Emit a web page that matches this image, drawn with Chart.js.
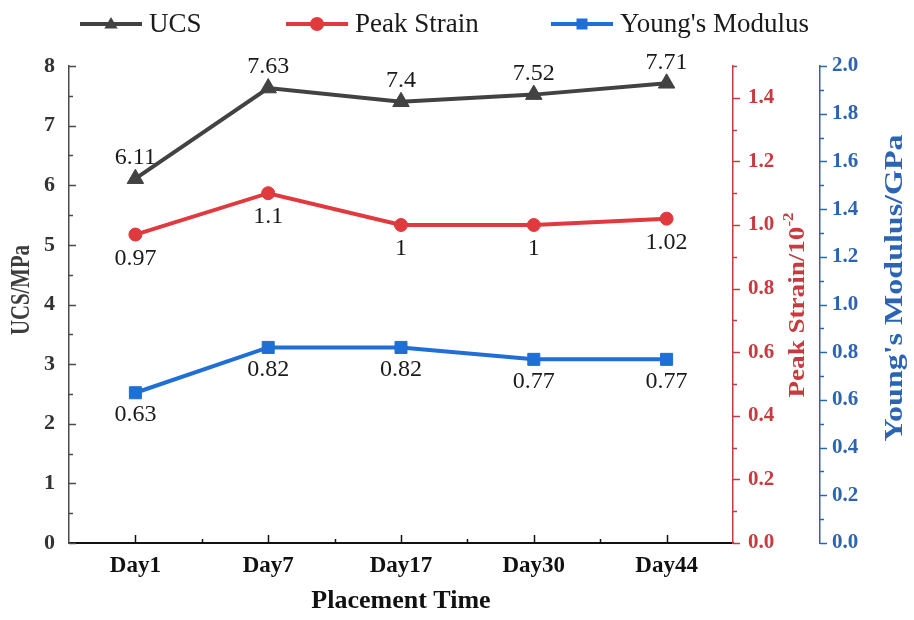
<!DOCTYPE html>
<html>
<head>
<meta charset="utf-8">
<script src="https://cdn.jsdelivr.net/npm/chart.js@4.4.1/dist/chart.umd.min.js"></script>
<style>
  html, body { margin: 0; padding: 0; background: #fff; }
</style>
</head>
<body>
<canvas id="chart" width="914" height="620"></canvas>
<script>
const days = ['Day1', 'Day7', 'Day17', 'Day30', 'Day44']
const ucs = [6.11, 7.63, 7.4, 7.52, 7.71]
const peakStrain = [0.97, 1.1, 1, 1, 1.02]
const youngs = [0.63, 0.82, 0.82, 0.77, 0.77]
const seriesNames = ['UCS', 'Peak Strain', "Young's Modulus"]

const grayColor = '#424242'
const redColor = '#e0393e'
const blueColor = '#1f6fd6'
const redAxis = '#c73a3e'
const blueAxis = '#2c64b4'
const serif = '"Liberation Serif", "Times New Roman", serif'

function line(ctx, x1, y1, x2, y2) {
  ctx.beginPath()
  ctx.moveTo(x1, y1)
  ctx.lineTo(x2, y2)
  ctx.stroke()
}

function marker(ctx, style, x, y, r, color) {
  ctx.fillStyle = color
  ctx.beginPath()
  if (style === 'triangle') {
    ctx.moveTo(x, y - r)
    ctx.lineTo(x + r * 0.95, y + r * 0.65)
    ctx.lineTo(x - r * 0.95, y + r * 0.65)
    ctx.closePath()
  } else if (style === 'circle') {
    ctx.arc(x, y, r, 0, Math.PI * 2)
  } else {
    ctx.rect(x - r, y - r, r * 2, r * 2)
  }
  ctx.fill()
}

// rotated title, read bottom to top, squeezed/stretched to a target length
function vTitle(ctx, parts, x, yc, targetLen, color) {
  ctx.save()
  ctx.fillStyle = color
  ctx.textBaseline = 'middle'
  ctx.textAlign = 'left'
  let total = 0
  parts.forEach(p => { ctx.font = p.font; p.w = ctx.measureText(p.text).width; total += p.w })
  const k = targetLen / total
  ctx.translate(x, yc)
  ctx.rotate(-Math.PI / 2)
  ctx.scale(k, 1)
  let cx = -total / 2
  parts.forEach(p => {
    ctx.font = p.font
    ctx.fillText(p.text, cx, p.dy || 0)
    cx += p.w
  })
  ctx.restore()
}

const axisTicks = {
  id: 'axisTicks',
  afterDraw(chart) {
    const ctx = chart.ctx
    const a = chart.chartArea
    const sx = chart.scales.x, sy = chart.scales.y, s1 = chart.scales.y1, s2 = chart.scales.y2
    ctx.save()
    ctx.lineWidth = 1.5

    // UCS axis, ticks point into the plot
    ctx.strokeStyle = '#4a4a4a'
    for (let i = 0; i <= 16; i++) {
      const py = Math.round(sy.getPixelForValue(i / 2)) + 0.5
      line(ctx, a.left, py, a.left + (i % 2 === 0 ? 7 : 4), py)
    }

    // peak strain axis
    ctx.strokeStyle = redAxis
    for (let i = 0; i <= 15; i++) {
      const py = Math.round(s1.getPixelForValue(i / 10)) + 0.5
      line(ctx, s1.left, py, s1.left + (i % 2 === 0 ? 7 : 4), py)
    }

    // young's modulus axis
    ctx.strokeStyle = blueAxis
    for (let i = 0; i <= 20; i++) {
      const py = Math.round(s2.getPixelForValue(i / 10)) + 0.5
      line(ctx, s2.left, py, s2.left + (i % 2 === 0 ? 7 : 4), py)
    }

    // category axis
    ctx.strokeStyle = '#111'
    for (let i = 0; i < days.length; i++) {
      const px = Math.round(sx.getPixelForValue(i)) + 0.5
      line(ctx, px, a.bottom, px, a.bottom - 8)
      if (i < days.length - 1) {
        const mx = Math.round((sx.getPixelForValue(i) + sx.getPixelForValue(i + 1)) / 2) + 0.5
        line(ctx, mx, a.bottom, mx, a.bottom - 4)
      }
    }
    ctx.restore()

    // axis titles
    vTitle(ctx, [{ text: 'UCS/MPa', font: 'bold 28px ' + serif }], 22, 290, 90, '#3d3d3d')
    vTitle(ctx, [
      { text: 'Peak Strain/10', font: 'bold 24px ' + serif },
      { text: '-2', font: 'bold 15px ' + serif, dy: -9 }
    ], 798, 305, 185, redAxis)
    vTitle(ctx, [{ text: "Young's Modulus/GPa", font: 'bold 26px ' + serif }], 895, 288, 307, blueAxis)
  }
}

const valueLabels = {
  id: 'valueLabels',
  afterDatasetsDraw(chart) {
    const ctx = chart.ctx
    const shift = [-21, 24, 22]
    ctx.save()
    ctx.font = '24px ' + serif
    ctx.fillStyle = '#1a1a1a'
    ctx.textAlign = 'center'
    ctx.textBaseline = 'middle'
    chart.data.datasets.forEach((ds, d) => {
      chart.getDatasetMeta(d).data.forEach((pt, i) => {
        ctx.fillText(String(ds.data[i]), pt.x, pt.y + shift[d])
      })
    })
    ctx.restore()
  }
}

const topLegend = {
  id: 'topLegend',
  afterDraw(chart) {
    const ctx = chart.ctx
    const starts = [80, 286, 551]
    const y = 24
    ctx.save()
    chart.data.datasets.forEach((ds, d) => {
      const x = starts[d]
      ctx.strokeStyle = ds.borderColor
      ctx.lineWidth = 4
      line(ctx, x, y, x + 62, y)
      marker(ctx, ds.pointStyle, x + 31, y, ds.pointStyle === 'rect' ? 5.5 : 7, ds.borderColor)
      ctx.font = '27px ' + serif
      ctx.fillStyle = '#1a1a1a'
      ctx.textBaseline = 'middle'
      ctx.fillText(ds.label, x + 69, y + 1)
    })
    ctx.restore()
  }
}

const tickFont = size => ({ family: serif, size: size, weight: 'bold' })

new Chart(document.getElementById('chart'), {
  type: 'line',
  data: {
    labels: days,
    datasets: [{
      label: seriesNames[0],
      data: ucs,
      yAxisID: 'y',
      borderColor: grayColor,
      backgroundColor: grayColor,
      borderWidth: 4,
      pointStyle: 'triangle',
      pointRadius: 9.5,
      pointBorderWidth: 1,
    }, {
      label: seriesNames[1],
      data: peakStrain,
      yAxisID: 'y1',
      borderColor: redColor,
      backgroundColor: redColor,
      borderWidth: 4,
      pointStyle: 'circle',
      pointRadius: 6.5,
      pointBorderWidth: 1,
    }, {
      label: seriesNames[2],
      data: youngs,
      yAxisID: 'y2',
      borderColor: blueColor,
      backgroundColor: blueColor,
      borderWidth: 4,
      pointStyle: 'rect',
      pointRadius: 8.5,
      pointBorderWidth: 1,
    }]
  },
  options: {
    responsive: false,
    animation: false,
    layout: { padding: { top: 66, right: 12, left: 0, bottom: 0 } },
    plugins: { legend: { display: false }, tooltip: { enabled: false } },
    scales: {
      x: {
        offset: true,
        grid: { display: false, drawTicks: false },
        border: { color: '#111', width: 2 },
        ticks: { font: tickFont(23), color: '#111', padding: 9 },
        title: { display: true, text: 'Placement Time', font: tickFont(26), color: '#111', padding: { top: 0, bottom: 3 } },
        afterFit(s) { s.height = 77 }
      },
      y: {
        position: 'left',
        min: 0,
        max: 8,
        grid: { display: false, drawTicks: false },
        border: { color: '#4a4a4a', width: 1.5 },
        ticks: { stepSize: 1, font: tickFont(22), color: '#333', padding: 14 },
        afterFit(s) { s.width = 69 }
      },
      y1: {
        position: 'right',
        min: 0,
        max: 1.5,
        grid: { display: false, drawTicks: false },
        border: { color: redAxis, width: 1.5 },
        ticks: { stepSize: 0.2, includeBounds: false, callback: v => v.toFixed(1), font: tickFont(21), color: redAxis, padding: 15 },
        afterFit(s) { s.width = 87 }
      },
      y2: {
        position: 'right',
        min: 0,
        max: 2,
        grid: { display: false, drawTicks: false },
        border: { color: blueAxis, width: 1.5 },
        ticks: { stepSize: 0.2, callback: v => v.toFixed(1), font: tickFont(21), color: blueAxis, padding: 12 },
        afterFit(s) { s.width = 82 }
      }
    }
  },
  plugins: [axisTicks, valueLabels, topLegend]
})
</script>
</body>
</html>
